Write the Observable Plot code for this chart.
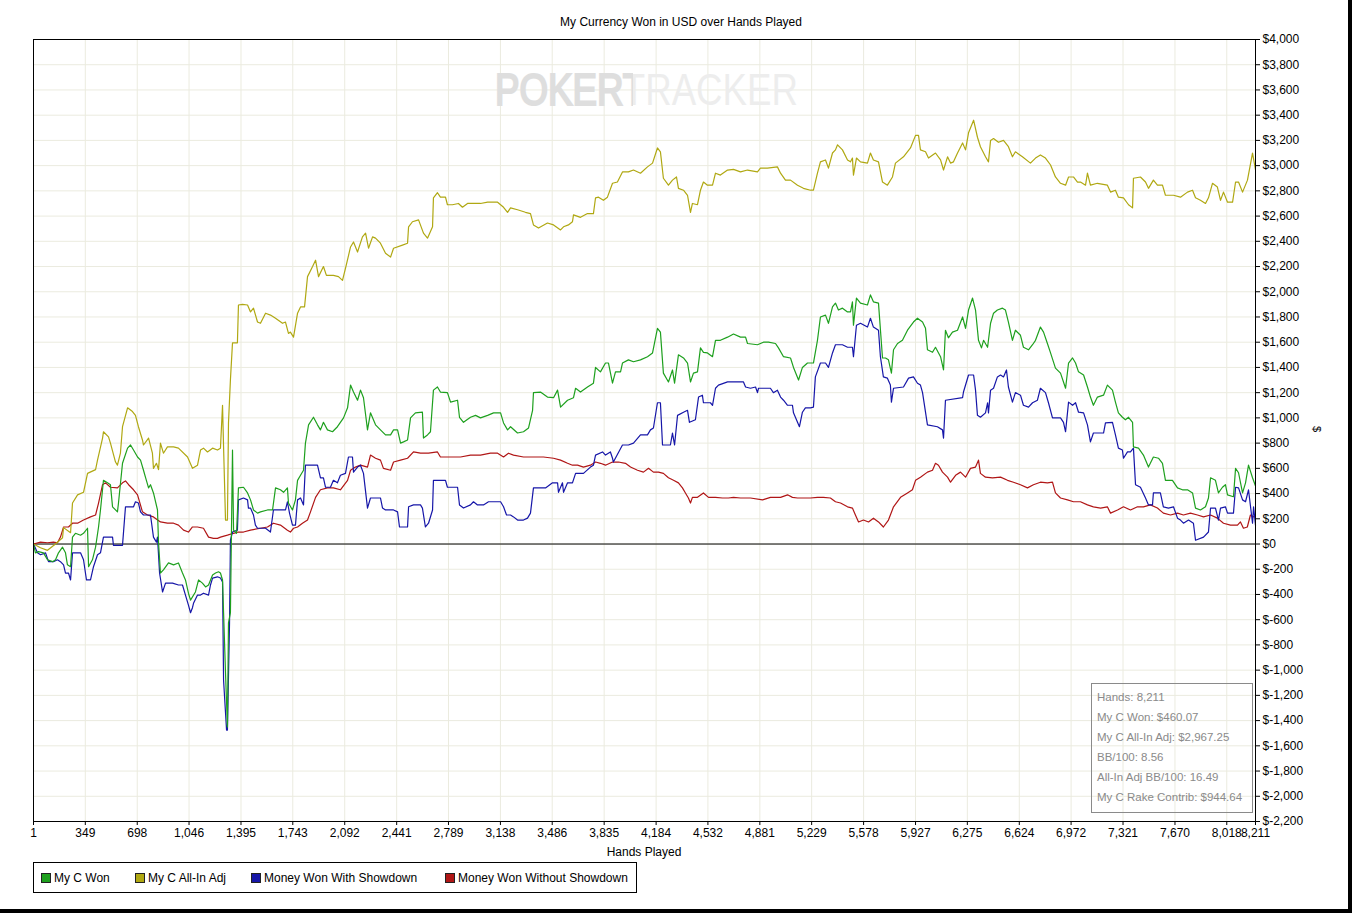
<!DOCTYPE html>
<html><head><meta charset="utf-8">
<script src="https://cdn.jsdelivr.net/npm/d3@7"></script>
<script src="https://cdn.jsdelivr.net/npm/@observablehq/plot@0.6"></script>
<style>
body{margin:0;background:#fff;font-family:"Liberation Sans",Arial,sans-serif;font-size:12px;color:#000;}
#page{position:relative;width:1352px;height:913px;overflow:hidden;background:#fff;}
#title{position:absolute;left:0;top:15px;width:1362px;text-align:center;font-size:12px;}
#chart{position:absolute;left:0;top:31px;}
#xlabel{position:absolute;left:33px;width:1222px;top:845px;text-align:center;font-size:12px;}
#ylabel{position:absolute;left:1314px;top:423px;font-size:11px;transform:rotate(90deg);transform-origin:center;}
#legend{position:absolute;left:33px;top:862px;width:604px;height:31px;border:1px solid #000;box-sizing:border-box;}
.li{position:absolute;top:0;height:30px;line-height:30px;white-space:nowrap;}
.sw{position:absolute;top:10px;width:8px;height:8px;border:1px solid #222;}
#stats{position:absolute;left:1091px;top:683px;width:162px;height:130px;border:1px solid #8a8a8a;box-sizing:border-box;padding:3px 0 0 5px;color:#8a8a8a;font-size:11.5px;}
#stats div{height:20px;line-height:20px;white-space:nowrap;}
#wm{position:absolute;left:0;top:0;}
#rbar{position:absolute;left:1348px;top:0;width:4px;height:913px;background:#000;}
#bbar{position:absolute;left:0;top:909px;width:1352px;height:4px;background:#000;}
</style></head><body><div id="page">
<div id="title">My Currency Won in USD over Hands Played</div>
<div id="chart"></div>
<svg id="wm" width="1352" height="130">
  <defs>
    <linearGradient id="wmFill" gradientUnits="userSpaceOnUse" x1="495" y1="0" x2="798" y2="0">
      <stop offset="0.455" stop-color="#dedede"/>
      <stop offset="0.455" stop-color="#ededed"/>
    </linearGradient>
    <linearGradient id="wmStroke" gradientUnits="userSpaceOnUse" x1="495" y1="0" x2="798" y2="0">
      <stop offset="0.455" stop-color="#dedede" stop-opacity="1"/>
      <stop offset="0.455" stop-color="#ededed" stop-opacity="0"/>
    </linearGradient>
  </defs>
  <text x="495" y="105" font-family="Liberation Sans" font-size="45" fill="url(#wmFill)" stroke="url(#wmStroke)" stroke-width="2.2" textLength="303" lengthAdjust="spacingAndGlyphs">POKERTRACKER</text>
</svg>
<div id="xlabel">Hands Played</div>
<div id="ylabel">$</div>
<div id="legend"></div>
<div id="stats"></div>
<div id="rbar"></div><div id="bbar"></div>
</div>
<script>
const xTicks = [1,349,698,1046,1395,1743,2092,2441,2789,3138,3486,3835,4184,4532,4881,5229,5578,5927,6275,6624,6972,7321,7670,8018,8211];
const yTicks = [-2200,-2000,-1800,-1600,-1400,-1200,-1000,-800,-600,-400,-200,0,200,400,600,800,1000,1200,1400,1600,1800,2000,2200,2400,2600,2800,3000,3200,3400,3600,3800,4000];

const seriesNames = ["My C Won","My C All-In Adj","Money Won With Showdown","Money Won Without Showdown"];
const seriesColors = ["#1ea01e","#b0a812","#1616a8","#b01616"];

const statsLines = ["Hands: 8,211","My C Won: $460.07","My C All-In Adj: $2,967.25","BB/100: 8.56","All-In Adj BB/100: 16.49","My C Rake Contrib: $944.64"];

// [hand, dollars]
const allInAdj = [[1,0],[48,-30],[95,-50],[149,0],[196,50],[203,130],[250,90],[263,325],[297,390],[337,410],[364,560],[418,590],[431,665],[465,840],[471,890],[505,850],[518,800],[552,650],[565,625],[585,720],[599,930],[633,1080],[666,1050],[686,1020],[706,930],[733,825],[740,785],[774,840],[800,720],[807,600],[827,640],[841,590],[854,800],[874,720],[901,770],[942,770],[975,760],[1036,690],[1069,600],[1103,625],[1123,745],[1143,760],[1170,730],[1204,760],[1237,745],[1257,760],[1271,1100],[1278,770],[1291,190],[1304,190],[1311,960],[1324,1300],[1338,1595],[1371,1595],[1378,1895],[1405,1900],[1439,1895],[1459,1840],[1479,1870],[1506,1760],[1526,1750],[1560,1830],[1593,1815],[1627,1790],[1674,1750],[1694,1760],[1714,1670],[1727,1680],[1748,1640],[1775,1830],[1795,1880],[1822,1880],[1842,2120],[1876,2200],[1896,2250],[1916,2120],[1949,2200],[1969,2130],[2016,2130],[2050,2120],[2077,2090],[2097,2185],[2131,2355],[2151,2395],[2178,2315],[2211,2435],[2232,2465],[2252,2345],[2279,2435],[2299,2425],[2332,2385],[2366,2305],[2400,2275],[2420,2345],[2480,2370],[2514,2385],[2521,2515],[2547,2555],[2588,2570],[2621,2465],[2648,2425],[2682,2515],[2688,2745],[2715,2785],[2735,2750],[2769,2750],[2782,2690],[2816,2690],[2856,2700],[2883,2670],[2917,2700],[2957,2700],[3004,2700],[3052,2710],[3119,2710],[3159,2670],[3186,2630],[3206,2665],[3253,2650],[3306,2630],[3340,2620],[3360,2530],[3394,2505],[3454,2545],[3495,2530],[3542,2490],[3562,2515],[3595,2530],[3622,2555],[3629,2610],[3676,2590],[3723,2620],[3763,2620],[3777,2745],[3797,2750],[3830,2725],[3857,2750],[3891,2860],[3924,2870],[3958,2950],[3998,2950],[4032,2965],[4079,2940],[4126,2990],[4160,3020],[4193,3140],[4213,3110],[4233,2900],[4267,2845],[4294,2885],[4321,2910],[4334,2820],[4368,2805],[4395,2765],[4415,2630],[4428,2700],[4462,2690],[4482,2805],[4502,2870],[4529,2845],[4563,2845],[4583,2940],[4616,2925],[4664,2965],[4704,2970],[4751,2950],[4798,2965],[4865,2950],[4885,2980],[4932,2980],[4999,2990],[5020,2940],[5053,2885],[5087,2885],[5134,2845],[5174,2820],[5221,2805],[5241,2805],[5268,2940],[5288,3030],[5322,3045],[5342,2980],[5369,3100],[5389,3125],[5403,3165],[5436,3125],[5470,3045],[5490,3030],[5503,3060],[5510,2925],[5530,3060],[5557,3030],[5604,3020],[5624,3100],[5644,3045],[5678,3030],[5705,2870],[5738,2845],[5772,2910],[5792,3020],[5846,3070],[5893,3140],[5927,3240],[5947,3240],[5960,3125],[5994,3110],[6014,3060],[6061,3100],[6095,3045],[6115,2965],[6142,3070],[6162,3020],[6182,3030],[6209,3100],[6243,3180],[6263,3125],[6283,3260],[6317,3360],[6343,3225],[6363,3150],[6397,3070],[6417,3030],[6431,3200],[6451,3215],[6484,3185],[6518,3200],[6551,3150],[6578,3070],[6598,3110],[6645,3070],[6699,3020],[6733,3060],[6766,3085],[6800,3060],[6834,3005],[6867,2910],[6901,2860],[6935,2845],[6955,2910],[6988,2910],[7015,2870],[7035,2870],[7069,2845],[7082,2940],[7102,2845],[7149,2860],[7216,2845],[7237,2790],[7270,2805],[7290,2750],[7324,2745],[7358,2690],[7385,2665],[7391,2900],[7438,2910],[7472,2870],[7492,2820],[7525,2885],[7552,2845],[7586,2845],[7606,2765],[7660,2765],[7707,2750],[7754,2790],[7788,2805],[7808,2745],[7841,2725],[7875,2700],[7895,2745],[7922,2860],[7955,2830],[7976,2725],[7996,2790],[8023,2710],[8057,2710],[8077,2870],[8097,2870],[8124,2790],[8157,2885],[8191,3100],[8211,2967]];

const won = [[1,0],[14,-70],[35,-60],[68,-70],[95,-125],[129,-140],[149,-125],[169,-70],[196,-25],[216,-70],[229,-165],[250,-180],[263,55],[283,85],[317,70],[337,85],[364,125],[371,-180],[397,-125],[418,-25],[438,135],[451,270],[471,505],[498,485],[518,470],[532,295],[565,255],[572,325],[599,640],[633,760],[653,785],[673,745],[700,690],[720,665],[740,585],[753,530],[774,445],[787,470],[807,405],[834,270],[841,10],[854,-230],[874,-205],[908,-150],[942,-165],[975,-150],[1002,-230],[1022,-285],[1042,-390],[1056,-445],[1089,-380],[1110,-285],[1136,-310],[1157,-340],[1177,-325],[1204,-245],[1224,-230],[1244,-220],[1257,-230],[1271,-285],[1278,-545],[1291,-1020],[1304,-1450],[1311,-625],[1324,-545],[1338,745],[1345,110],[1365,85],[1378,445],[1412,450],[1439,405],[1459,350],[1479,270],[1506,245],[1526,255],[1573,270],[1607,270],[1627,445],[1660,430],[1681,410],[1707,445],[1714,325],[1741,270],[1761,350],[1775,505],[1795,545],[1815,585],[1828,800],[1849,945],[1882,1005],[1909,945],[1929,905],[1949,965],[1976,905],[2010,890],[2043,930],[2084,1000],[2111,1080],[2131,1260],[2151,1205],[2178,1140],[2198,1220],[2218,1160],[2245,905],[2265,1040],[2299,945],[2332,905],[2366,865],[2400,865],[2420,905],[2447,905],[2467,800],[2487,810],[2514,825],[2534,1000],[2567,1040],[2614,1045],[2621,840],[2648,865],[2668,890],[2688,1220],[2715,1245],[2735,1205],[2782,1200],[2803,1125],[2850,1140],[2863,1005],[2890,965],[2937,1005],[2971,1020],[3004,1000],[3052,1020],[3092,1040],[3139,1040],[3159,960],[3186,905],[3206,930],[3253,880],[3293,890],[3327,920],[3354,1060],[3360,1200],[3407,1205],[3454,1165],[3495,1160],[3522,1220],[3542,1085],[3589,1140],[3629,1160],[3643,1235],[3676,1205],[3723,1245],[3763,1275],[3777,1400],[3810,1365],[3844,1435],[3864,1435],[3891,1275],[3911,1365],[3945,1365],[3958,1435],[3998,1460],[4032,1445],[4079,1460],[4126,1485],[4160,1515],[4193,1710],[4213,1680],[4233,1355],[4267,1285],[4294,1380],[4308,1275],[4334,1500],[4368,1475],[4395,1435],[4415,1285],[4435,1355],[4462,1365],[4482,1555],[4502,1520],[4529,1515],[4563,1485],[4583,1615],[4616,1615],[4664,1640],[4704,1665],[4751,1640],[4785,1640],[4798,1590],[4865,1580],[4905,1600],[4939,1600],[4986,1590],[5006,1555],[5040,1485],[5087,1475],[5107,1400],[5141,1300],[5167,1400],[5201,1435],[5241,1435],[5268,1615],[5288,1800],[5322,1815],[5342,1750],[5369,1880],[5389,1910],[5409,1855],[5436,1870],[5470,1840],[5490,1840],[5503,1920],[5510,1735],[5530,1950],[5557,1910],[5604,1895],[5624,1975],[5644,1920],[5678,1910],[5705,1475],[5725,1475],[5745,1460],[5765,1355],[5779,1540],[5806,1590],[5839,1615],[5873,1695],[5913,1760],[5940,1790],[5974,1760],[5994,1710],[6007,1540],[6041,1520],[6061,1560],[6095,1485],[6115,1380],[6128,1695],[6148,1635],[6175,1680],[6209,1695],[6243,1800],[6263,1710],[6283,1855],[6310,1950],[6330,1855],[6350,1615],[6370,1555],[6384,1615],[6411,1560],[6431,1750],[6451,1830],[6477,1855],[6511,1870],[6531,1855],[6551,1760],[6578,1615],[6598,1695],[6632,1655],[6652,1560],[6686,1540],[6713,1580],[6733,1615],[6766,1720],[6787,1680],[6813,1590],[6834,1515],[6867,1395],[6901,1355],[6935,1235],[6955,1435],[6982,1475],[7002,1435],[7022,1365],[7056,1340],[7082,1245],[7102,1165],[7122,1100],[7149,1165],[7190,1180],[7216,1260],[7250,1220],[7270,1125],[7290,1040],[7317,1005],[7337,985],[7358,1005],[7385,965],[7391,770],[7425,760],[7458,705],[7492,610],[7525,690],[7559,680],[7586,640],[7606,505],[7653,505],[7687,445],[7720,430],[7754,430],[7788,405],[7808,285],[7841,270],[7875,295],[7895,365],[7909,525],[7942,505],[7962,405],[7989,450],[8009,470],[8023,390],[8063,375],[8077,600],[8097,565],[8124,405],[8144,485],[8164,625],[8191,525],[8211,460]];

const withShowdown = [[1,0],[28,-70],[48,-85],[82,-70],[102,-140],[135,-140],[162,-125],[182,-140],[203,-165],[216,-230],[236,-230],[250,-285],[263,-70],[283,-70],[317,-70],[337,-125],[357,-285],[384,-285],[404,-180],[431,-85],[451,-70],[471,55],[532,55],[538,-10],[599,-10],[619,295],[673,295],[686,335],[706,325],[720,255],[740,230],[787,230],[807,55],[827,15],[834,55],[848,-230],[868,-380],[888,-310],[935,-310],[975,-325],[1002,-325],[1022,-405],[1042,-485],[1056,-545],[1069,-505],[1076,-470],[1103,-405],[1123,-405],[1143,-390],[1177,-405],[1190,-325],[1204,-270],[1237,-260],[1257,-270],[1271,-300],[1278,-1080],[1298,-1475],[1304,-1475],[1318,-625],[1324,30],[1338,95],[1371,110],[1378,350],[1412,365],[1439,350],[1445,285],[1459,285],[1479,230],[1492,150],[1506,125],[1560,125],[1593,95],[1613,270],[1694,270],[1707,335],[1721,245],[1741,150],[1761,150],[1775,350],[1795,365],[1815,310],[1828,625],[1909,625],[1929,525],[1949,525],[1963,450],[1996,450],[2016,505],[2043,485],[2063,545],[2097,560],[2117,690],[2144,690],[2151,570],[2178,610],[2198,625],[2218,560],[2245,285],[2265,365],[2332,365],[2346,285],[2366,270],[2420,270],[2447,255],[2460,135],[2514,135],[2521,295],[2554,310],[2601,310],[2614,285],[2634,135],[2655,165],[2682,270],[2688,505],[2769,505],[2782,450],[2850,450],[2863,310],[2890,285],[2937,310],[2957,335],[2984,310],[3024,310],[3058,335],[3139,335],[3159,295],[3179,230],[3206,230],[3226,215],[3253,190],[3293,190],[3320,205],[3340,245],[3360,445],[3441,445],[3488,485],[3522,485],[3528,410],[3555,485],[3562,410],[3589,485],[3622,485],[3643,560],[3696,560],[3743,610],[3763,625],[3777,705],[3824,730],[3844,705],[3877,730],[3891,680],[3897,650],[3958,785],[3998,785],[4032,800],[4079,865],[4126,865],[4146,905],[4166,920],[4193,1120],[4213,1120],[4227,785],[4280,785],[4294,880],[4308,785],[4328,1020],[4368,1045],[4395,1060],[4408,965],[4448,985],[4469,1165],[4495,1180],[4502,1120],[4549,1120],[4563,1100],[4583,1235],[4603,1260],[4664,1285],[4771,1285],[4785,1245],[4818,1235],[4852,1245],[4865,1200],[4872,1235],[4952,1235],[4972,1200],[4999,1220],[5020,1165],[5040,1140],[5067,1100],[5100,1100],[5107,1040],[5134,965],[5147,930],[5167,1045],[5187,1080],[5221,1080],[5241,1085],[5254,1325],[5288,1435],[5322,1435],[5342,1400],[5369,1515],[5389,1580],[5436,1580],[5470,1560],[5503,1560],[5510,1485],[5530,1735],[5557,1750],[5604,1720],[5624,1790],[5644,1720],[5678,1695],[5691,1485],[5711,1325],[5738,1315],[5758,1260],[5765,1125],[5779,1235],[5846,1245],[5880,1315],[5913,1325],[5940,1275],[5960,1260],[5974,1200],[6007,945],[6074,930],[6108,905],[6115,840],[6128,1140],[6243,1160],[6249,1205],[6283,1340],[6317,1340],[6330,1220],[6343,1020],[6363,1005],[6397,1040],[6411,1120],[6417,1040],[6431,1220],[6451,1235],[6477,1325],[6498,1340],[6518,1325],[6538,1380],[6551,1245],[6578,1125],[6598,1200],[6632,1180],[6652,1100],[6686,1085],[6713,1120],[6746,1140],[6766,1235],[6800,1200],[6820,1120],[6847,1000],[6901,1000],[6921,965],[6935,890],[6955,1125],[6982,1100],[7002,1120],[7022,1045],[7056,1040],[7082,945],[7102,810],[7122,880],[7190,880],[7203,960],[7250,965],[7270,865],[7290,760],[7317,745],[7324,680],[7351,730],[7371,730],[7391,760],[7405,470],[7438,450],[7472,365],[7492,310],[7519,310],[7525,405],[7572,405],[7592,295],[7626,285],[7660,295],[7687,205],[7707,190],[7727,165],[7761,190],[7794,165],[7808,30],[7862,55],[7895,95],[7909,285],[7942,285],[7962,190],[7976,285],[8009,295],[8023,245],[8063,245],[8077,450],[8097,445],[8124,350],[8144,335],[8164,430],[8191,165],[8198,295],[8211,150]];

const withoutShowdown = [[1,0],[48,15],[95,10],[135,15],[162,10],[182,55],[203,135],[236,135],[263,165],[297,165],[337,190],[384,215],[418,230],[438,325],[465,470],[485,485],[518,450],[565,445],[599,485],[619,500],[640,470],[673,430],[700,390],[733,255],[767,230],[807,215],[854,175],[901,165],[942,165],[975,150],[1009,110],[1042,95],[1069,135],[1103,135],[1143,125],[1177,55],[1210,45],[1237,45],[1257,55],[1304,70],[1345,85],[1378,95],[1412,95],[1459,110],[1526,125],[1573,135],[1613,165],[1660,150],[1707,110],[1727,95],[1748,125],[1775,135],[1808,165],[1842,190],[1862,255],[1896,370],[1929,430],[1976,445],[2016,445],[2063,430],[2111,505],[2131,585],[2164,610],[2198,625],[2245,610],[2265,705],[2299,680],[2332,665],[2352,600],[2400,585],[2420,650],[2467,665],[2514,680],[2554,730],[2601,720],[2655,720],[2715,730],[2735,690],[2803,690],[2870,690],[2937,705],[3004,705],[3071,720],[3119,720],[3159,690],[3192,720],[3226,705],[3293,690],[3360,690],[3427,690],[3495,680],[3542,665],[3589,640],[3622,625],[3656,625],[3696,610],[3743,625],[3777,650],[3810,640],[3844,625],[3891,650],[3931,650],[3978,640],[4012,610],[4059,585],[4099,570],[4133,600],[4166,570],[4200,570],[4233,560],[4267,525],[4301,505],[4334,485],[4361,445],[4381,405],[4401,365],[4415,325],[4428,370],[4462,370],[4502,405],[4536,370],[4583,370],[4630,365],[4670,365],[4704,370],[4751,365],[4818,365],[4899,350],[4952,370],[5020,370],[5067,390],[5100,370],[5134,365],[5174,365],[5221,365],[5268,370],[5308,370],[5355,365],[5389,335],[5423,325],[5470,295],[5503,285],[5523,230],[5544,175],[5577,190],[5611,175],[5644,205],[5678,175],[5711,135],[5745,190],[5779,295],[5826,370],[5873,405],[5906,430],[5927,505],[5960,530],[6007,570],[6041,585],[6061,640],[6081,625],[6108,570],[6142,530],[6162,490],[6196,545],[6229,570],[6263,530],[6296,600],[6330,610],[6350,665],[6363,560],[6397,530],[6444,525],[6498,530],[6545,505],[6585,490],[6632,470],[6679,445],[6719,470],[6766,490],[6813,485],[6847,490],[6867,405],[6901,365],[6948,350],[6988,335],[7035,335],[7082,310],[7122,295],[7170,285],[7216,295],[7237,245],[7284,270],[7324,295],[7371,270],[7418,295],[7458,295],[7505,310],[7552,285],[7592,245],[7640,230],[7687,245],[7727,230],[7774,245],[7821,230],[7862,215],[7909,230],[7955,205],[7996,165],[8043,150],[8090,150],[8110,175],[8130,125],[8156,135],[8177,230],[8198,215],[8211,230]];

const seriesData = [won, allInAdj, withShowdown, withoutShowdown];

const money = d => "$" + (d < 0 ? "-" : "") + Math.abs(d).toLocaleString("en-US");
const handFmt = d => d.toLocaleString("en-US");
const gridColor = "#ebebdf";

const drawOrder = [3, 2, 1, 0];
const lineMarks = drawOrder.map(i => Plot.line(seriesData[i], {x: d => d[0], y: d => d[1], stroke: seriesColors[i], strokeWidth: 1.2}));

const chart = Plot.plot({
  width: 1352, height: 830,
  marginTop: 8, marginLeft: 33, marginRight: 97, marginBottom: 40,
  style: {fontFamily: "Liberation Sans, Arial, sans-serif", fontSize: "12px", color: "#000", background: "transparent"},
  x: {domain: [1, 8211]},
  y: {domain: [-2200, 4000]},
  marks: [
    Plot.gridX(xTicks, {stroke: gridColor, strokeOpacity: 1}),
    Plot.gridY(yTicks, {stroke: gridColor, strokeOpacity: 1}),
    Plot.ruleY([0], {stroke: "#000", strokeWidth: 1}),
    ...lineMarks,
    Plot.frame({stroke: "#000", strokeWidth: 1}),
    Plot.axisX(xTicks, {tickFormat: handFmt, tickSize: 4, tickPadding: 3, label: null, stroke: "#000"}),
    Plot.axisY(yTicks, {anchor: "right", tickFormat: money, tickSize: 4, tickPadding: 3, label: null, stroke: "#000"})
  ]
});
document.getElementById("chart").appendChild(chart);

// legend
const legend = document.getElementById("legend");
const legendX = [7, 101, 217, 411];
seriesNames.forEach((n, i) => {
  const sw = document.createElement("div");
  sw.className = "sw";
  sw.style.left = legendX[i] + "px";
  sw.style.background = seriesColors[i];
  legend.appendChild(sw);
  const t = document.createElement("div");
  t.className = "li";
  t.style.left = (legendX[i] + 13) + "px";
  t.textContent = n;
  legend.appendChild(t);
});

// stats box
const stats = document.getElementById("stats");
statsLines.forEach(s => { const d = document.createElement("div"); d.textContent = s; stats.appendChild(d); });
</script>
</body></html>
